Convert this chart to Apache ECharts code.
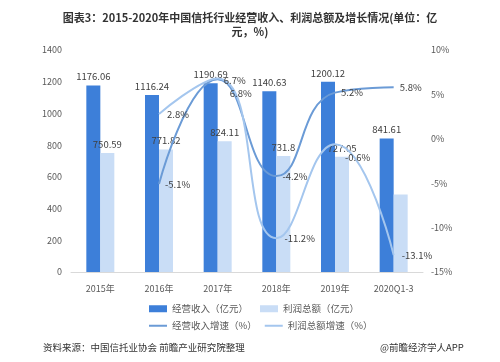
<!DOCTYPE html>
<html><head><meta charset="utf-8">
<script src="https://cdn.jsdelivr.net/npm/echarts@6/dist/echarts.min.js"></script>
<style>html,body{margin:0;padding:0;background:#fff}#c{width:500px;height:362px}</style>
</head><body><div id="c"></div>
<script>
const categories = ['2015年','2016年','2017年','2018年','2019年','2020Q1-3'];
const revenue = [1176.06,1116.24,1190.69,1140.63,1200.12,841.61];
const profit = [750.59,771.82,824.11,731.8,727.05,489.35];
const revenueGrowth = [null,-5.1,6.7,-4.2,5.2,5.8];
const profitGrowth = [null,2.8,6.8,-11.2,-0.6,-13.1];
const leftTicks = {min:0,max:1400,interval:200};
const rightTicks = {min:-15,max:10,interval:5};

const chart = echarts.init(document.getElementById('c'));
const font = 'Noto Sans CJK SC';
const lblStyle = {fontSize:9.5,color:'#404040',fontFamily:font};
// label nudges (styling only)
const revOffsets = {2:[0,1]};
const profOffsets = {2:[4,15],4:[2,13]};
const withOffsets = (arr, offs) => arr.map((v,i)=> offs[i] ? {value:v,label:{offset:offs[i]}} : v);
chart.setOption({
  animation:false,
  textStyle:{fontFamily:font},
  title:{text:'图表3：2015-2020年中国信托行业经营收入、利润总额及增长情况(单位：亿\n元，%)',
    left:'center',top:6,textStyle:{fontSize:11,fontWeight:'bold',color:'#333',lineHeight:14,fontFamily:font}},
  grid:{left:71,right:77,top:50,bottom:90},
  legend:[
    {data:['经营收入（亿元）','利润总额（亿元）'],left:144,top:299,itemWidth:18,itemHeight:7,itemGap:12,icon:'rect',
     textStyle:{fontSize:9.5,color:'#595959',fontFamily:font}},
    {data:['经营收入增速（%）','利润总额增速（%）'],left:144,top:316,itemWidth:18,itemHeight:2,itemGap:8,icon:'rect',
     textStyle:{fontSize:9.5,color:'#595959',fontFamily:font}}
  ],
  xAxis:{type:'category',data:categories,
    axisLine:{lineStyle:{color:'#d9d9d9'}},axisTick:{show:false},
    axisLabel:{fontSize:9,color:'#595959',margin:12,fontFamily:font}},
  yAxis:[
    {type:'value',min:leftTicks.min,max:leftTicks.max,interval:leftTicks.interval,
     splitLine:{show:false},axisLine:{show:false},axisTick:{show:false},
     axisLabel:{fontSize:9,color:'#595959',margin:9,formatter:v=>String(v),fontFamily:font}},
    {type:'value',min:rightTicks.min,max:rightTicks.max,interval:rightTicks.interval,
     splitLine:{show:false},axisLine:{show:false},axisTick:{show:false},
     axisLabel:{fontSize:9,color:'#595959',margin:8,formatter:'{value}%',fontFamily:font}}
  ],
  series:[
    {name:'经营收入（亿元）',type:'bar',data:revenue,barWidth:14,barGap:'0%',
     itemStyle:{color:'#3d7fd9'},label:{show:true,position:'top',distance:4,...lblStyle}},
    {name:'利润总额（亿元）',type:'bar',data:profit.map((v,i)=>i===5?{value:v,label:{show:false}}:v),barWidth:14,
     itemStyle:{color:'#c9ddf6'},label:{show:true,position:'top',distance:4,...lblStyle}},
    {name:'经营收入增速（%）',type:'line',yAxisIndex:1,data:withOffsets(revenueGrowth,revOffsets),smooth:0.5,showSymbol:true,symbol:'circle',symbolSize:0.1,
     lineStyle:{color:'#6b9bd6',width:2},itemStyle:{color:'#6b9bd6'},
     label:{show:true,position:'right',distance:6,formatter:p=>p.value+'%',...lblStyle}},
    {name:'利润总额增速（%）',type:'line',yAxisIndex:1,data:withOffsets(profitGrowth,profOffsets),smooth:0.5,showSymbol:true,symbol:'circle',symbolSize:0.1,
     lineStyle:{color:'#a4c6ee',width:2},itemStyle:{color:'#a4c6ee'},
     label:{show:true,position:'right',distance:8,formatter:p=>p.value+'%',...lblStyle}}
  ],
  graphic:[
    {type:'text',left:43,top:343,style:{text:'资料来源：中国信托业协会 前瞻产业研究院整理',fontSize:9.5,fill:'#333',fontFamily:font}},
    {type:'text',left:380,top:343,style:{text:'@前瞻经济学人APP',fontSize:9.5,fill:'#333',fontFamily:font}}
  ]
});
</script></body></html>
